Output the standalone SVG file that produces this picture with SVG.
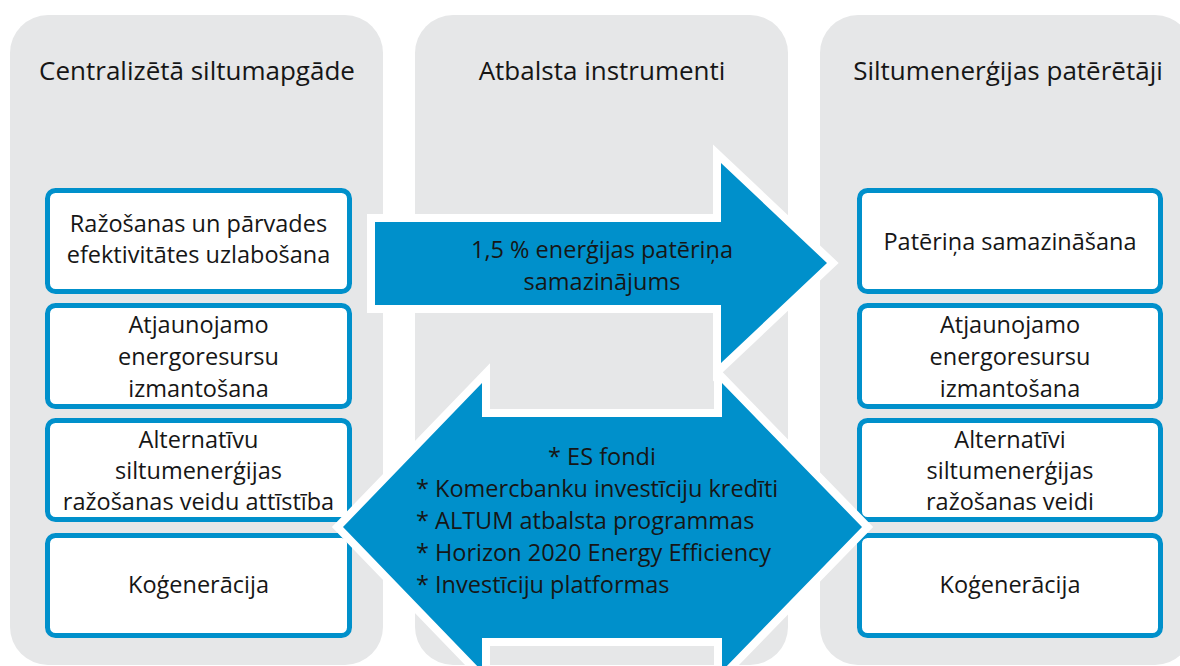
<svg xmlns="http://www.w3.org/2000/svg" width="1180" height="666" viewBox="0 0 1180 666">
<style>
.col{fill:#e6e7e8}
.box{fill:#ffffff;stroke:#0090cb;stroke-width:5}
.arrow{fill:#0090cb;stroke:#ffffff;stroke-width:16;stroke-linejoin:miter;paint-order:stroke}
text{font-family:"Open Sans","Noto Sans","Liberation Sans",sans-serif;fill:#161616;text-anchor:middle}
.title{font-size:26px}
.t{font-size:23.5px}
.l{text-anchor:start}
</style>
<rect width="1180" height="666" fill="#ffffff"/>
<g id="col-left"><rect class="col" x="10" y="15" width="373" height="650" rx="38"/><text class="title" x="197" y="80">Centralizētā siltumapgāde</text></g>
<g id="col-mid"><rect class="col" x="415" y="15" width="373" height="650" rx="38"/><text class="title" x="602" y="80">Atbalsta instrumenti</text></g>
<g id="col-right"><rect class="col" x="820" y="15" width="373" height="650" rx="38"/><text class="title" x="1008" y="80">Siltumenerģijas patērētāji</text></g>

<g id="l1"><rect class="box" x="47.5" y="190.5" width="302" height="101" rx="8"/><text class="t" x="198.5" y="232">Ražošanas un pārvades</text><text class="t" x="198.5" y="263">efektivitātes uzlabošana</text></g>
<g id="l2"><rect class="box" x="47.5" y="305.5" width="302" height="101" rx="8"/><text class="t" x="198.5" y="333">Atjaunojamo</text><text class="t" x="198.5" y="365">energoresursu</text><text class="t" x="198.5" y="397">izmantošana</text></g>
<g id="l3"><rect class="box" x="47.5" y="420.5" width="302" height="99" rx="8"/><text class="t" x="198.5" y="448">Alternatīvu</text><text class="t" x="198.5" y="479">siltumenerģijas</text><text class="t" x="198.5" y="510">ražošanas veidu attīstība</text></g>
<g id="l4"><rect class="box" x="47.5" y="535.5" width="302" height="100" rx="8"/><text class="t" x="198.5" y="593">Koģenerācija</text></g>

<g id="r1"><rect class="box" x="859.5" y="190.5" width="301" height="101" rx="8"/><text class="t" x="1010" y="250">Patēriņa samazināšana</text></g>
<g id="r2"><rect class="box" x="859.5" y="305.5" width="301" height="101" rx="8"/><text class="t" x="1010" y="333">Atjaunojamo</text><text class="t" x="1010" y="365">energoresursu</text><text class="t" x="1010" y="397">izmantošana</text></g>
<g id="r3"><rect class="box" x="859.5" y="420.5" width="301" height="99" rx="8"/><text class="t" x="1010" y="448">Alternatīvi</text><text class="t" x="1010" y="479">siltumenerģijas</text><text class="t" x="1010" y="510">ražošanas veidi</text></g>
<g id="r4"><rect class="box" x="859.5" y="535.5" width="301" height="100" rx="8"/><text class="t" x="1010" y="593">Koģenerācija</text></g>

<g id="connectors">
<g id="arrow-top"><polygon class="arrow" points="375,222 721,222 721,163 827,263 721,363 721,305 375,305"/><text class="t" x="602" y="258">1,5 % enerģijas patēriņa</text><text class="t" x="602" y="290">samazinājums</text></g>
<g id="arrow-double"><polygon class="arrow" points="343,527 482,383 482,417 722,417 722,383 862,527 722,671 722,638 482,638 482,671"/>
<text class="t" x="602" y="465">* ES fondi</text>
<text class="t l" x="416" y="497">* Komercbanku investīciju kredīti</text>
<text class="t l" x="416" y="529">* ALTUM atbalsta programmas</text>
<text class="t l" x="416" y="561">* Horizon 2020 Energy Efficiency</text>
<text class="t l" x="416" y="593">* Investīciju platformas</text></g>
</g>
</svg>
